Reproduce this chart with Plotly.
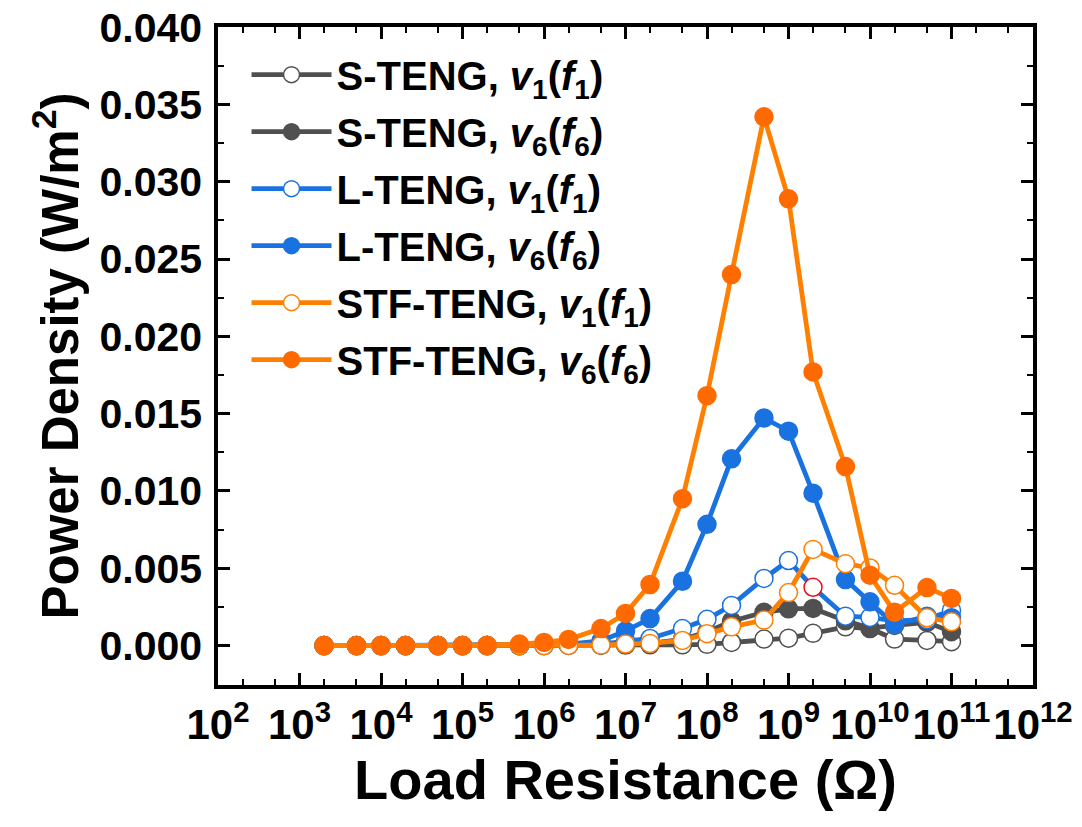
import plotly.graph_objects as go

resistance = [2e3, 5e3, 1e4, 2e4, 5e4, 1e5, 2e5, 5e5, 1e6, 2e6, 5e6, 1e7,
              2e7, 5e7, 1e8, 2e8, 5e8, 1e9, 2e9, 5e9, 1e10, 2e10, 5e10, 1e11]

s_v1 = [0, 0, 0, 0, 0, 0, 0, 0, 0, 0.00001, 0.00002, 0.00003,
        0.00005, 0.00005, 0.00008, 0.0002, 0.00042, 0.00048, 0.00079, 0.00121, 0.0011, 0.00042, 0.00033, 0.00025]
s_v6 = [0, 0, 0, 0, 0, 0, 0, 0, 0.00001, 0.00003, 0.00005, 0.0001,
        0.00015, 0.0004, 0.00088, 0.00158, 0.00215, 0.00238, 0.0024, 0.0016, 0.00113, 0.0013, 0.0015, 0.0009]
l_v1 = [0, 0, 0, 0, 0, 0, 0, 0, 0.00001, 0.00003, 0.0001, 0.0003,
        0.00046, 0.0011, 0.0017, 0.0026, 0.00434, 0.0055, 0.00377, 0.0019, 0.00182, 0.0016, 0.00168, 0.00229]
l_v6 = [0, 0, 0, 0, 0, 0, 0, 0, 0.00005, 0.0001, 0.0003, 0.00095,
        0.00175, 0.00416, 0.00784, 0.01208, 0.01472, 0.01387, 0.00986, 0.00427, 0.00283, 0.00135, 0.0019, 0.0018]
stf_v1 = [0, 0, 0, 0, 0, 0, 0, 0, 0, 0.00001, 0.00003, 0.0001,
          0.00014, 0.00033, 0.00077, 0.00121, 0.00165, 0.00343, 0.00622, 0.0053, 0.00502, 0.0039, 0.0018, 0.00154]
stf_v6 = [0, 0, 0, 0, 0, 0, 0.00002, 0.0001, 0.0002, 0.0004, 0.0011, 0.00208,
          0.00395, 0.0095, 0.01616, 0.024, 0.0342, 0.0289, 0.0177, 0.01158, 0.00455, 0.00216, 0.00375, 0.00305]

series_names = [
    "S-TENG, <i>v</i><sub>1</sub>(<i>f</i><sub>1</sub>)",
    "S-TENG, <i>v</i><sub>6</sub>(<i>f</i><sub>6</sub>)",
    "L-TENG, <i>v</i><sub>1</sub>(<i>f</i><sub>1</sub>)",
    "L-TENG, <i>v</i><sub>6</sub>(<i>f</i><sub>6</sub>)",
    "STF-TENG, <i>v</i><sub>1</sub>(<i>f</i><sub>1</sub>)",
    "STF-TENG, <i>v</i><sub>6</sub>(<i>f</i><sub>6</sub>)",
]
series_values = [s_v1, s_v6, l_v1, l_v6, stf_v1, stf_v6]

x_tick_vals = [1e2, 1e3, 1e4, 1e5, 1e6, 1e7, 1e8, 1e9, 1e10, 1e11, 1e12]
x_tick_text = ["10<sup>2</sup>", "10<sup>3</sup>", "10<sup>4</sup>", "10<sup>5</sup>",
               "10<sup>6</sup>", "10<sup>7</sup>", "10<sup>8</sup>", "10<sup>9</sup>",
               "10<sup>10</sup>", "10<sup>11</sup>", "10<sup>12</sup>"]

GRAY = "#505050"
BLUE = "#1a72e0"
ORANGE_LINE = "#ff8000"
ORANGE_FILL = "#ff6a00"

styles = [
    dict(line=GRAY, fill="white", edge=GRAY),
    dict(line=GRAY, fill=GRAY, edge=GRAY),
    dict(line=BLUE, fill="white", edge=BLUE),
    dict(line=BLUE, fill=BLUE, edge=BLUE),
    dict(line=ORANGE_LINE, fill="white", edge=ORANGE_LINE),
    dict(line=ORANGE_LINE, fill=ORANGE_FILL, edge=ORANGE_FILL),
]

fig = go.Figure()
for i, (name, vals, st) in enumerate(zip(series_names, series_values, styles)):
    edge = st["edge"]
    if i == 2:
        edge = [("#e8101e" if r == 2e9 else BLUE) for r in resistance]
    fig.add_trace(go.Scatter(
        x=resistance, y=vals, name=name, mode="lines+markers",
        legendgroup=f"g{i}",
        line=dict(color=st["line"], width=4.8),
        marker=dict(symbol="circle", size=18, color=st["fill"],
                    line=dict(color=edge, width=1.5)),
    ))

font_main = "Liberation Sans"

fig.update_layout(
    width=1082, height=827,
    paper_bgcolor="white", plot_bgcolor="white",
    margin=dict(l=218, r=49, t=27, b=142),
    font=dict(family=font_main, color="black", weight="bold"),
    showlegend=True,
    legend=dict(
        x=0.035, y=0.977, xanchor="left", yanchor="top",
        bgcolor="rgba(0,0,0,0)", borderwidth=0,
        font=dict(family=font_main, size=40, color="black", weight="bold"),
        tracegroupgap=2, itemwidth=80,
    ),
    xaxis=dict(
        type="log", range=[2, 12], automargin=False,
        tickvals=x_tick_vals, ticktext=x_tick_text, tickangle=0,
        tickfont=dict(family=font_main, size=42, color="black", weight="bold"),
        ticklabelstandoff=0, ticklabeloverflow="allow",
        ticks="inside", ticklen=12, tickwidth=3, tickcolor="black",
        minor=dict(ticks="inside", ticklen=6, tickwidth=2, tickcolor="black", showgrid=False),
        showline=True, linewidth=3.5, linecolor="black", mirror="ticks",
        showgrid=False, zeroline=False,
        title=dict(text="Load Resistance (Ω)",
                   font=dict(family=font_main, size=56, color="black", weight="bold"),
                   standoff=6),
    ),
    yaxis=dict(
        range=[-0.00255, 0.04001], automargin=False,
        tick0=0, dtick=0.005, tickformat=".3f",
        tickfont=dict(family=font_main, size=41, color="black", weight="bold"),
        ticklabelstandoff=4, ticklabeloverflow="allow",
        ticks="inside", ticklen=12, tickwidth=3, tickcolor="black",
        minor=dict(ticks="inside", ticklen=6, tickwidth=2, tickcolor="black", dtick=0.0025, showgrid=False),
        showline=True, linewidth=3.5, linecolor="black", mirror="ticks",
        showgrid=False, zeroline=False,
        title=dict(text="Power Density (W/m<sup>2</sup>)",
                   font=dict(family=font_main, size=51, color="black", weight="bold"),
                   standoff=6),
    ),
)

fig.write_html("out.html", config={"displayModeBar": False},
               post_script="document.body.style.margin='0';")
